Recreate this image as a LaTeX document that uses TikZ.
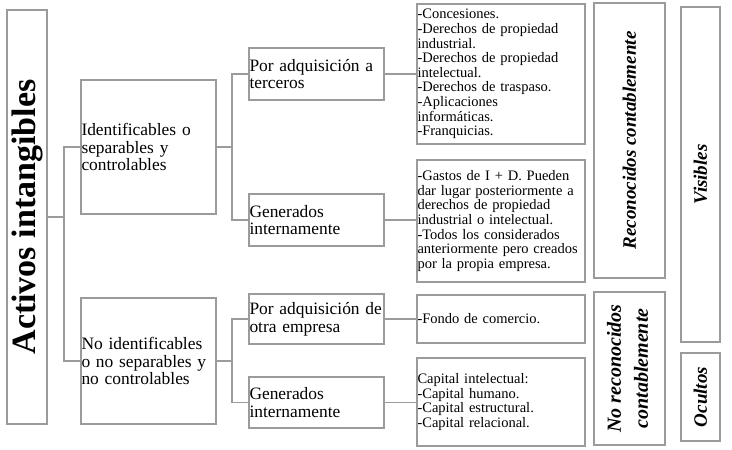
\documentclass[tikz,border=0pt]{standalone}
\usepackage{fontspec}
\setmainfont{Liberation Serif}
\definecolor{lg}{RGB}{155,155,155}
\newcommand{\fB}{\fontsize{17.4}{17.8}\selectfont}
\newcommand{\fD}{\fontsize{14.5}{14.6}\selectfont}
\newcommand{\fA}{\fontsize{34}{36}\selectfont\bfseries}
\newcommand{\fE}{\fontsize{19}{24}\selectfont\bfseries\itshape}
\newcommand{\fEE}{\fontsize{20}{27}\selectfont\bfseries\itshape}
\begin{document}
\begin{tikzpicture}[x=1pt,y=-1pt,
  bx/.style={draw=lg, line width=1.6pt, inner xsep=0.5pt, inner ysep=0pt, align=left},
  rbx/.style={draw=lg, line width=1.6pt, inner sep=0pt},
  rtxt/.style={rotate=90, align=center, inner sep=0pt},
  cn/.style={draw=lg, line width=1.6pt}]
\fill[white] (0,0) rectangle (732,450);
\useasboundingbox (0,0) rectangle (732,450);

% root
\node[rbx, minimum width=40, minimum height=414] (A) at (27,217) {};
\node[rtxt, font=\fA] (At) at (A.center) {Activos intangibles};

% level B
\node[bx, text width=134, minimum height=134, font=\fB] (B1) at (148.5,147) {Identificables o\\separables y\\controlables};
\node[bx, text width=134, minimum height=126, font=\fB] (B2) at (148.5,361) {No identificables\\o no separables y\\no controlables};

% level C
\node[bx, text width=134, minimum height=52, font=\fB] (C1) at (316.5,74) {Por adquisición a\\terceros};
\node[bx, text width=134, minimum height=52, font=\fB] (C2) at (316.5,220) {Generados\\internamente};
\node[bx, text width=134, minimum height=50, font=\fB] (C3) at (316.5,319) {Por adquisición de\\otra empresa};
\node[bx, text width=134, minimum height=51, font=\fB] (C4) at (316.5,402.5) {Generados\\internamente};

% level D
\node[bx, text width=167, minimum height=140, font=\fD] (D1) at (501,74) {-Concesiones.\\-Derechos de propiedad\\industrial.\\-Derechos de propiedad\\intelectual.\\-Derechos de traspaso.\\-Aplicaciones\\informáticas.\\-Franquicias.};
\node[bx, text width=167, minimum height=122, font=\fD] (D2) at (501,221) {-Gastos de I + D. Pueden\\dar lugar posteriormente a\\derechos de propiedad\\industrial o intelectual.\\-Todos los considerados\\anteriormente pero creados\\por la propia empresa.};
\node[bx, text width=167, minimum height=48, font=\fD] (D3) at (501,319) {-Fondo de comercio.};
\node[bx, text width=167, minimum height=88, font=\fD] (D4) at (501,402) {Capital intelectual:\\-Capital humano.\\-Capital estructural.\\-Capital relacional.};

% level E
\node[rbx, minimum width=71, minimum height=275] (E1) at (629.5,140.5) {};
\node[rtxt, font=\fE] (E1t) at (E1.center) {Reconocidos contablemente};
\node[rbx, minimum width=71, minimum height=153] (E2) at (629.5,368.5) {};
\node[rtxt, font=\fEE] (E2t) at ([xshift=-2]E2.center) {No reconocidos\\contablemente};

% level F
\node[rbx, minimum width=39, minimum height=335] (F1) at (700.5,174.5) {};
\node[rtxt, font=\fE] (F1t) at (F1.center) {Visibles};
\node[rbx, minimum width=39, minimum height=88] (F2) at (700.5,397) {};
\node[rtxt, font=\fE] (F2t) at (F2.center) {Ocultos};

% connectors
\coordinate (j1) at (64,217);
\draw[cn] (A.east) -- (j1);
\draw[cn] (B1.west) -| (j1) |- (B2.west);
\coordinate (j2) at (232,147);
\draw[cn] (B1.east) -- (j2);
\draw[cn] (C1.west) -| (j2) |- (C2.west);
\coordinate (j3) at (232,361);
\draw[cn] (B2.east) -- (j3);
\draw[cn] (C3.west) -| (j3) |- (C4.west);
\draw[cn] (C1.east) -- (C1.east -| D1.west);
\draw[cn] (C2.east) -- (C2.east -| D2.west);
\draw[cn] (C3.east) -- (C3.east -| D3.west);
\draw[cn] (C4.east) -- (C4.east -| D4.west);
\end{tikzpicture}
\end{document}
